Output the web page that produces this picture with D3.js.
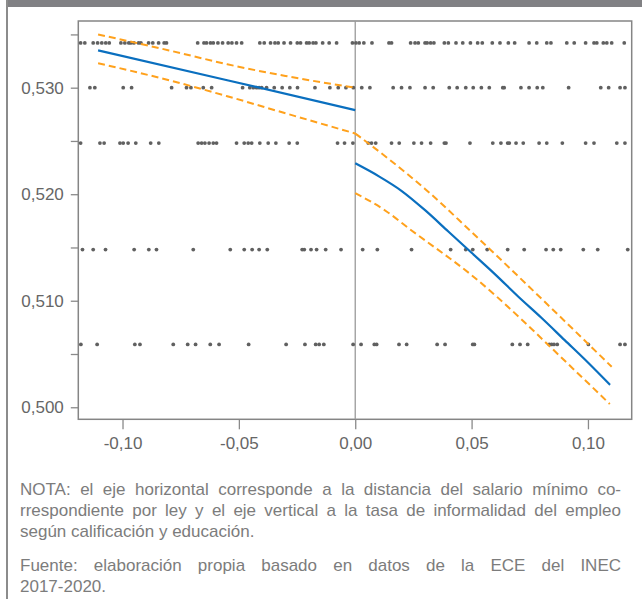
<!DOCTYPE html>
<html>
<head>
<meta charset="utf-8">
<script src="https://cdn.jsdelivr.net/npm/d3@7"></script>
<style>
  body { margin: 0; background: #fff; }
  svg { display: block; }
</style>
</head>
<body>
<div id="chart"></div>
<script>
// dot rows: y level of each row and the x positions of its dots
const rowLevels = [0.5342, 0.5300, 0.5248, 0.5148, 0.5059];

const row1 = [-0.1180, -0.1162, -0.1126, -0.1107, -0.1089, -0.1072, -0.1057, -0.1007, -0.0990, -0.0973,
  -0.0964, -0.0951, -0.0931, -0.0921, -0.0888, -0.0870, -0.0845, -0.0821, -0.0811, -0.0677, -0.0650,
  -0.0639, -0.0622, -0.0610, -0.0590, -0.0570, -0.0546, -0.0530, -0.0510, -0.0488, -0.0410, -0.0391,
  -0.0364, -0.0345, -0.0331, -0.0306, -0.0278, -0.0249, -0.0235, -0.0209, -0.0198, -0.0181, -0.0169,
  -0.0140, -0.0112, -0.0080, -0.0012, 0.0003, 0.0017, 0.0037, 0.0072, 0.0145, 0.0156, 0.0238, 0.0257,
  0.0271, 0.0300, 0.0309, 0.0324, 0.0338, 0.0383, 0.0400, 0.0433, 0.0462, 0.0495, 0.0526, 0.0546,
  0.0589, 0.0622, 0.0658, 0.0685, 0.0747, 0.0780, 0.0823, 0.0841, 0.0909, 0.0941, 0.0990, 0.1026,
  0.1038, 0.1066, 0.1081, 0.1102, 0.1156];

const row2 = [-0.1140, -0.1119, -0.0997, -0.0961, -0.0789, -0.0725, -0.0706, -0.0653, -0.0617, -0.0484,
  -0.0453, -0.0438, -0.0424, -0.0413, -0.0402, -0.0381, -0.0348, -0.0314, -0.0281, -0.0248, -0.0173,
  -0.0109, -0.0073, -0.0040, -0.0008, 0.0028, 0.0063, 0.0163, 0.0199, 0.0235, 0.0300, 0.0335, 0.0404,
  0.0438, 0.0475, 0.0507, 0.0542, 0.0576, 0.0634, 0.0640, 0.0712, 0.0747, 0.0782, 0.0806, 0.0917,
  0.1055, 0.1089, 0.1138, 0.1159];

const row3 = [-0.1180, -0.1097, -0.1079, -0.1011, -0.0997, -0.0976, -0.0943, -0.0879, -0.0844, -0.0675,
  -0.0660, -0.0646, -0.0628, -0.0610, -0.0596, -0.0510, -0.0477, -0.0460, -0.0445, -0.0410, -0.0374,
  -0.0341, -0.0284, -0.0249, -0.0076, -0.0046, -0.0010, 0.0056, 0.0070, 0.0088, 0.0156, 0.0189,
  0.0252, 0.0285, 0.0324, 0.0383, 0.0390, 0.0493, 0.0591, 0.0626, 0.0655, 0.0662, 0.0691, 0.0722,
  0.0790, 0.0823, 0.0890, 0.0990, 0.1026, 0.1124, 0.1159];

const row4 = [-0.1172, -0.1126, -0.1073, -0.0950, -0.0887, -0.0854, -0.0696, -0.0537, -0.0477, -0.0443,
  -0.0413, -0.0378, -0.0228, -0.0219, -0.0190, -0.0166, -0.0127, -0.0061, 0.0032, 0.0095, 0.0242,
  0.0410, 0.0475, 0.0505, 0.0567, 0.0655, 0.0726, 0.0820, 0.0851, 0.0883, 0.0980, 0.1042, 0.1171];

const row5 = [-0.1179, -0.1109, -0.0947, -0.0925, -0.0782, -0.0720, -0.0686, -0.0623, -0.0585, -0.0458,
  -0.0297, -0.0216, -0.0170, -0.0155, -0.0135, -0.0009, 0.0025, 0.0082, 0.0092, 0.0188, 0.0221,
  0.0352, 0.0386, 0.0505, 0.0512, 0.0675, 0.0708, 0.0741, 0.0834, 0.0844, 0.0854, 0.0868, 0.1002,
  0.1138, 0.1159];

const rows = [row1, row2, row3, row4, row5];

// fitted line and confidence band, left of the cutoff
const fitLeft = [[-0.1105, 0.5335], [-0.0550, 0.5307], [0, 0.5279]];
const upperLeft = [[-0.1105, 0.5350], [-0.0800, 0.5335], [-0.0550, 0.5322], [-0.0300, 0.5311], [0, 0.5300]];
const lowerLeft = [[-0.1105, 0.5323], [-0.0800, 0.5307], [-0.0550, 0.5292], [-0.0300, 0.5276], [0, 0.5257]];

// fitted line and confidence band, right of the cutoff
const fitRight = [[0, 0.5229], [0.010, 0.5217], [0.020, 0.5203], [0.030, 0.5185], [0.040, 0.5165],
  [0.050, 0.5145], [0.060, 0.5125], [0.070, 0.5104], [0.080, 0.5084], [0.090, 0.5063],
  [0.100, 0.5042], [0.1095, 0.5021]];
const upperRight = [[0, 0.5257], [0.015, 0.5232], [0.030, 0.5205], [0.0493, 0.5166], [0.080, 0.5102],
  [0.1102, 0.5038]];
const lowerRight = [[0, 0.5201], [0.012, 0.5186], [0.0242, 0.5166], [0.050, 0.5124], [0.0937, 0.5036],
  [0.1094, 0.5003]];

const xTicks = [-0.10, -0.05, 0, 0.05, 0.10];
const yTicks = [0.500, 0.505, 0.510, 0.515, 0.520, 0.525, 0.530, 0.535];
const yLabelTicks = [0.500, 0.510, 0.520, 0.530];

const notaLines = [
  'NOTA: el eje horizontal corresponde a la distancia del salario mínimo co-',
  'rrespondiente por ley y el eje vertical a la tasa de informalidad del empleo',
  'según calificación y educación.'
];
const fuenteLines = [
  'Fuente: elaboración propia basado en datos de la ECE del INEC',
  '2017-2020.'
];

const width = 642;
const height = 599;
const plot = { left: 78.3, right: 631.7, top: 21, bottom: 419.3 };

const es = d3.formatLocale({ decimal: ',', thousands: '.', grouping: [3], currency: ['', '€'], minus: '-' });
const fmtX = es.format('.2f');
const fmtY = es.format('.3f');

const svg = d3.select('#chart').append('svg')
  .attr('width', width)
  .attr('height', height);

// page frame: dark band on top, rule on the left
svg.append('rect').attr('x', 6).attr('y', 0).attr('width', width - 6).attr('height', 7).attr('fill', '#818184');
svg.append('line').attr('x1', 7).attr('x2', 7).attr('y1', 0).attr('y2', height)
  .attr('stroke', '#8c8c8c').attr('stroke-width', 2);

const x = d3.scaleLinear().domain([-0.119, 0.1188]).range([plot.left, plot.right]);
const y = d3.scaleLinear().domain([0.49887, 0.53626]).range([plot.bottom, plot.top]);

// axes
const xAxis = svg.append('g')
  .attr('transform', `translate(0,${plot.bottom})`)
  .call(d3.axisBottom(x).tickValues(xTicks).tickFormat(fmtX).tickSize(10).tickPadding(8));
const yAxis = svg.append('g')
  .attr('transform', `translate(${plot.left},0)`)
  .call(d3.axisLeft(y).tickValues(yTicks)
    .tickFormat(d => yLabelTicks.some(v => Math.abs(v - d) < 1e-9) ? fmtY(d) : '')
    .tickSize(7.5).tickPadding(7));

[xAxis, yAxis].forEach(g => {
  g.select('.domain').remove();
  g.selectAll('.tick line').attr('stroke', '#8a8a8a').attr('stroke-width', 1.3);
  g.selectAll('.tick text')
    .attr('fill', '#666')
    .style('font-family', '"Liberation Sans", Arial, sans-serif')
    .style('font-size', '17px');
});

// plot frame and cutoff line
svg.append('rect')
  .attr('x', plot.left).attr('y', plot.top)
  .attr('width', plot.right - plot.left).attr('height', plot.bottom - plot.top)
  .attr('fill', 'none').attr('stroke', '#858585').attr('stroke-width', 1.5);
svg.append('line')
  .attr('x1', x(0)).attr('x2', x(0)).attr('y1', plot.top).attr('y2', plot.bottom)
  .attr('stroke', '#9a9a9a').attr('stroke-width', 1.3);

// scatter dots
rows.forEach((row, i) => {
  svg.append('g').selectAll('circle')
    .data(row)
    .enter()
    .append('circle')
    .attr('cx', d => x(d))
    .attr('cy', y(rowLevels[i]))
    .attr('r', 1.9)
    .attr('fill', '#606060');
});

const line = d3.line().x(d => x(d[0])).y(d => y(d[1]));
const lineCurve = d3.line().curve(d3.curveMonotoneX).x(d => x(d[0])).y(d => y(d[1]));

[upperLeft, lowerLeft, upperRight, lowerRight].forEach(band => {
  svg.append('path')
    .attr('d', lineCurve(band))
    .attr('fill', 'none')
    .attr('stroke', '#ffa11c')
    .attr('stroke-width', 2)
    .attr('stroke-dasharray', '7,4');
});
svg.append('path').attr('d', line(fitLeft))
  .attr('fill', 'none').attr('stroke', '#0a6fbf').attr('stroke-width', 2.2);
svg.append('path').attr('d', lineCurve(fitRight))
  .attr('fill', 'none').attr('stroke', '#0a6fbf').attr('stroke-width', 2.2);

// notes below the chart, justified like the source
const textLeft = 20;
const textRight = 621;
const lineH = 20.8;
const noteFont = { family: '"Liberation Sans", Arial, sans-serif', size: '17px', color: '#7c7c7c' };

function drawParagraph(lines, y0) {
  lines.forEach((str, i) => {
    const ty = y0 + i * lineH;
    const last = i === lines.length - 1;
    const t = svg.append('text')
      .attr('y', ty)
      .attr('fill', noteFont.color)
      .style('font-family', noteFont.family)
      .style('font-size', noteFont.size);
    if (last) {
      t.attr('x', textLeft).text(str);
      return;
    }
    const words = str.split(' ');
    const spans = words.map(w => t.append('tspan').text(w));
    const widths = spans.map(s => s.node().getComputedTextLength());
    const gap = (textRight - textLeft - d3.sum(widths)) / (words.length - 1);
    let cx = textLeft;
    spans.forEach((s, j) => {
      s.attr('x', cx);
      cx += widths[j] + gap;
    });
  });
}

drawParagraph(notaLines, 495);
drawParagraph(fuenteLines, 571);
</script>
</body>
</html>
